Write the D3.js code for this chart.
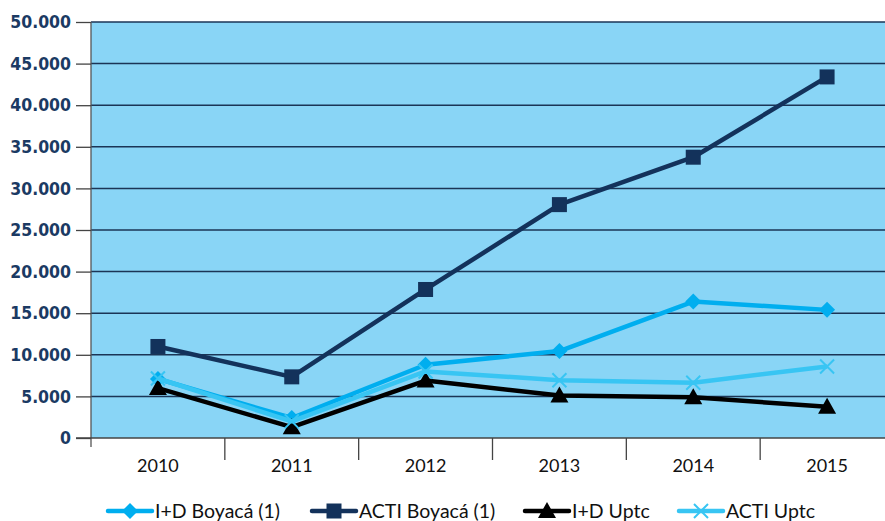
<!DOCTYPE html>
<html>
<head>
<meta charset="utf-8">
<script src="https://cdn.jsdelivr.net/npm/d3@7"></script>
<style>
  body { margin: 0; background: #fff; }
  svg { display: block; }
</style>
</head>
<body>
<svg id="chart" width="885" height="521"></svg>
<script>
const years = ["2010", "2011", "2012", "2013", "2014", "2015"];
const idBoyaca = [7100, 2400, 8800, 10450, 16400, 15400];
const actiBoyaca = [11000, 7350, 17850, 28050, 33750, 43400];
const idUptc = [6000, 1300, 6900, 5100, 4900, 3750];
const actiUptc = [7150, 2000, 8000, 6950, 6650, 8600];
const yTicks = [0, 5000, 10000, 15000, 20000, 25000, 30000, 35000, 40000, 45000, 50000];

const series = [
  { name: "I+D Boyacá (1)", values: idBoyaca, color: "#00AEEF", marker: "diamond" },
  { name: "ACTI Boyacá (1)", values: actiBoyaca, color: "#13325B", marker: "square" },
  { name: "I+D Uptc", values: idUptc, color: "#000000", marker: "triangle" },
  { name: "ACTI Uptc", values: actiUptc, color: "#38C5F3", marker: "cross" }
];

const svg = d3.select("#chart");
const pLeft = 91, pRight = 894, pTop = 22, pBottom = 438;

const x = d3.scaleBand().domain(years).range([pLeft, pRight]);
const y = d3.scaleLinear().domain([0, 50000]).range([pBottom, pTop]);

// plot background
svg.append("rect")
  .attr("x", pLeft).attr("y", pTop)
  .attr("width", pRight - pLeft).attr("height", pBottom - pTop)
  .attr("fill", "#89D5F6");

// gridlines
svg.append("g")
  .selectAll("line")
  .data(yTicks.filter(d => d > 0))
  .join("line")
  .attr("x1", pLeft).attr("x2", pRight)
  .attr("y1", d => y(d)).attr("y2", d => y(d))
  .attr("stroke", "#1B3556").attr("stroke-width", 1.5);

// y axis
const fmt = d => d3.format(",")(d).replace(/,/g, ".");
const yAxis = svg.append("g")
  .attr("transform", `translate(${pLeft},0)`)
  .call(d3.axisLeft(y).tickValues(yTicks).tickFormat(fmt).tickSize(15).tickPadding(5));
yAxis.select(".domain").attr("stroke", "#555").attr("stroke-width", 1.3)
  .attr("d", `M0,${pTop}V${pBottom + 9}`);
yAxis.selectAll(".tick line").attr("stroke", "#444").attr("stroke-width", 1.3);
yAxis.selectAll("text")
  .attr("font-family", "DejaVu Sans Condensed, DejaVu Sans")
  .attr("font-weight", "bold")
  .attr("font-size", 17.5)
  .attr("fill", "#1B3A63");

// x axis
const xAxis = svg.append("g")
  .attr("transform", `translate(0,${pBottom})`)
  .call(d3.axisBottom(x).tickSize(0).tickPadding(21));
xAxis.select(".domain").attr("stroke", "#444").attr("stroke-width", 1.3)
  .attr("d", `M${pLeft - 15},0H${pRight}`);
xAxis.selectAll("text")
  .attr("font-family", "Lato")
  .attr("font-size", 18)
  .attr("fill", "#111");
svg.append("g")
  .selectAll("line")
  .data(years.slice(1))
  .join("line")
  .attr("x1", d => x(d)).attr("x2", d => x(d))
  .attr("y1", pBottom).attr("y2", pBottom + 22)
  .attr("stroke", "#444").attr("stroke-width", 1.3);

function drawMarker(g, type, color) {
  if (type === "square") {
    g.append("rect").attr("x", -7.5).attr("y", -7.5).attr("width", 15).attr("height", 15).attr("fill", color);
  } else if (type === "diamond") {
    g.append("path").attr("d", "M0,-8L8,0L0,8L-8,0Z").attr("fill", color);
  } else if (type === "triangle") {
    g.append("path").attr("d", "M0,-9L9,7L-9,7Z").attr("fill", color);
  } else {
    g.append("path").attr("d", "M-7,-7L7,7M-7,7L7,-7").attr("stroke", color).attr("stroke-width", 2).attr("fill", "none");
  }
}

const line = d3.line()
  .x((d, i) => x(years[i]) + x.bandwidth() / 2)
  .y(d => y(d));

const drawOrder = [1, 0, 2, 3];
drawOrder.forEach(k => {
  const s = series[k];
  const g = svg.append("g");
  g.append("path")
    .datum(s.values)
    .attr("d", line)
    .attr("fill", "none")
    .attr("stroke", s.color)
    .attr("stroke-width", 4.5)
    .attr("stroke-linejoin", "round");
  s.values.forEach((v, i) => {
    const m = g.append("g")
      .attr("transform", `translate(${x(years[i]) + x.bandwidth() / 2},${y(v)})`);
    drawMarker(m, s.marker, s.color);
  });
});

// legend
const legendX = [108, 312, 525, 679];
const legendY = 511;
series.forEach((s, k) => {
  const g = svg.append("g").attr("transform", `translate(${legendX[k]},${legendY})`);
  g.append("line").attr("x1", 0).attr("x2", 44).attr("y1", 0).attr("y2", 0)
    .attr("stroke", s.color).attr("stroke-width", 4.5).attr("stroke-linecap", "round");
  const m = g.append("g").attr("transform", "translate(22,0)");
  drawMarker(m, s.marker, s.color);
  g.append("text")
    .attr("x", 47).attr("y", 7)
    .attr("font-family", "Lato")
    .attr("font-size", 19.5)
    .attr("fill", "#111")
    .text(s.name);
});
</script>
</body>
</html>
